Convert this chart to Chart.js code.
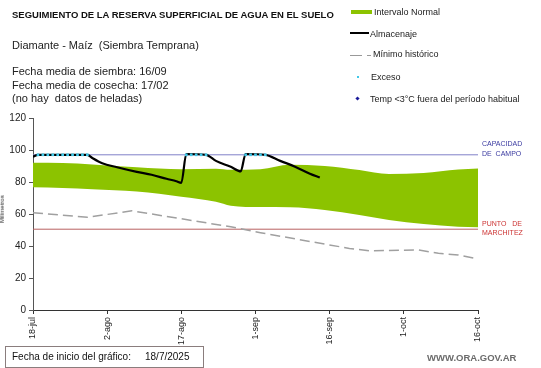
<!DOCTYPE html>
<html>
<head>
<meta charset="utf-8">
<script src="https://cdn.jsdelivr.net/npm/chart.js@4.4.0/dist/chart.umd.min.js"></script>
<style>
  body { margin: 0; background: #fff; font-family: "Liberation Sans", Arial, sans-serif; }
  #wrap { position: relative; width: 541px; height: 368px; overflow: hidden; }
  #c { position: absolute; left: 0; top: 0; }
  .t { position: absolute; white-space: pre; color: #111; line-height: 1; }
  .lg { position: absolute; }
</style>
</head>
<body>
<div id="wrap">
  <canvas id="c" width="541" height="368"></canvas>

  <div class="t" style="left:12px;top:10px;font-size:9.5px;font-weight:bold;">SEGUIMIENTO DE LA RESERVA SUPERFICIAL DE AGUA EN EL SUELO</div>
  <div class="t" style="left:12px;top:39.5px;font-size:11px;color:#222;">Diamante - Maíz  (Siembra Temprana)</div>
  <div class="t" style="left:12px;top:65.5px;font-size:11px;color:#222;">Fecha media de siembra: 16/09</div>
  <div class="t" style="left:12px;top:79.5px;font-size:11px;color:#222;">Fecha media de cosecha: 17/02</div>
  <div class="t" style="left:12px;top:92.5px;font-size:11px;color:#222;">(no hay  datos de heladas)</div>

  <!-- legend -->
  <div class="lg" style="left:351px;top:10px;width:21px;height:4px;background:#8cc300;"></div>
  <div class="t" style="left:374px;top:7.5px;font-size:9px;color:#222;">Intervalo Normal</div>
  <div class="lg" style="left:350px;top:32px;width:19px;height:2px;background:#000;"></div>
  <div class="t" style="left:370px;top:29.5px;font-size:9px;color:#222;">Almacenaje</div>
  <div class="lg" style="left:350px;top:54.5px;width:12px;height:1px;background:#999;"></div>
  <div class="lg" style="left:367px;top:54.5px;width:4px;height:1px;background:#999;"></div>
  <div class="t" style="left:373px;top:50px;font-size:9px;color:#222;">Mínimo histórico</div>
  <div class="lg" style="left:357px;top:76px;width:2px;height:2px;background:#40c8e8;"></div>
  <div class="t" style="left:371px;top:72.5px;font-size:9px;color:#222;">Exceso</div>
  <div class="lg" style="left:356px;top:97px;width:3px;height:3px;background:#1a1a9a;transform:rotate(45deg);"></div>
  <div class="t" style="left:370px;top:94.5px;font-size:9px;color:#222;">Temp &lt;3°C fuera del período habitual</div>

  <div class="t" style="left:-12px;top:206px;font-size:6px;color:#222;transform:rotate(-90deg);">Milímetros</div>

  <div class="lg" style="left:5px;top:346px;width:197px;height:20px;border:1px solid #8a7d7d;"></div>
  <div class="t" style="left:12px;top:352px;font-size:10px;color:#111;">Fecha de inicio del gráfico:</div>
  <div class="t" style="left:145px;top:352px;font-size:10px;color:#111;">18/7/2025</div>
  <div class="t" style="left:427px;top:353px;font-size:9.5px;font-weight:bold;color:#6b6b6b;">WWW.ORA.GOV.AR</div>
</div>

<script>
// days since 18-jul
const tickDays = [0, 15, 30, 45, 60, 75, 90];
const tickLabels = ["18-jul", "2-ago", "17-ago", "1-sep", "16-sep", "1-oct", "16-oct"];

const capacidadCampo = 97;
const puntoMarchitez = 50.5;

// intervalo normal (banda verde)
const bandDays  = [0, 6, 12, 21, 30, 37, 40, 46, 52, 59, 66, 72, 79, 86, 90];
const bandUpper = [92, 91.8, 91, 89.2, 88, 88.3, 87.6, 88, 90.8, 90, 87.5, 85, 85.7, 87.8, 88.5];
const bandLower = [76.7, 76.2, 75.4, 74, 70.8, 67.7, 65.2, 64.3, 64.2, 62.5, 59.4, 56.3, 53.7, 52, 51.7];

// almacenaje
const almDays = [0, 1, 11, 12, 14, 17, 21, 24, 27, 29, 30, 31, 35, 37, 40, 42, 43, 47, 50, 53, 56, 58];
const almVals = [95.8, 97, 97, 95, 91.7, 89.2, 86.3, 84.5, 82, 80.5, 79.5, 97.5, 97, 93.2, 89.5, 86.6, 97.5, 97, 93.2, 89.6, 85.2, 82.8];

// exceso
const excesoDays = [1, 2, 3, 4, 5, 6, 7, 8, 9, 10, 11, 31, 32, 33, 34, 35, 43, 44, 45, 46, 47];
const excesoVal = 97;

// minimo historico
const minDays = [0, 11, 20, 40, 46, 56, 64, 68, 78, 82, 86, 90];
const minVals = [60.8, 57.9, 62, 52, 48.3, 42.8, 38.5, 37, 37.5, 35.4, 34.4, 31.9];

const toPts = (xs, ys) => xs.map((x, i) => ({ x: x, y: ys[i] }));

const refLabels = {
  id: "refLabels",
  afterDraw(chart) {
    const { ctx, chartArea, scales } = chart;
    const yc = scales.y.getPixelForValue(capacidadCampo);
    const yp = scales.y.getPixelForValue(puntoMarchitez);
    const x = chartArea.right + 4;
    ctx.save();
    ctx.font = '7px "Liberation Sans", Arial';
    ctx.textBaseline = "middle";
    ctx.fillStyle = "#3a3aa0";
    ctx.fillText("CAPACIDAD", x, yc - 11);
    ctx.fillText("DE  CAMPO", x, yc - 1);
    ctx.fillStyle = "#cc3333";
    ctx.fillText("PUNTO   DE", x, yp - 5);
    ctx.fillText("MARCHITEZ", x, yp + 4);
    ctx.restore();
  },
};

const data = {
  datasets: [
    {
      label: "lower",
      data: toPts(bandDays, bandLower),
      borderWidth: 0,
      pointRadius: 0,
      fill: false,
      cubicInterpolationMode: "monotone",
      order: 6,
    },
    {
      label: "Intervalo Normal",
      data: toPts(bandDays, bandUpper),
      borderWidth: 0,
      pointRadius: 0,
      backgroundColor: "#8cc300",
      fill: 0,
      cubicInterpolationMode: "monotone",
      order: 5,
    },
    {
      label: "cc",
      data: toPts([0, 90], [capacidadCampo, capacidadCampo]),
      borderColor: "#8080c8",
      borderWidth: 1,
      pointRadius: 0,
      order: 4,
    },
    {
      label: "pm",
      data: toPts([0, 90], [puntoMarchitez, puntoMarchitez]),
      borderColor: "#b86060",
      borderWidth: 1,
      pointRadius: 0,
      order: 4,
    },
    {
      label: "Mínimo histórico",
      data: toPts(minDays, minVals),
      borderColor: "#a0a0a0",
      borderWidth: 1.5,
      borderDash: [10, 5],
      pointRadius: 0,
      order: 3,
    },
    {
      label: "Almacenaje",
      data: toPts(almDays, almVals),
      borderColor: "#000",
      borderWidth: 2.2,
      pointRadius: 0,
      cubicInterpolationMode: "monotone",
      order: 2,
    },
    {
      label: "Exceso",
      data: excesoDays.map((d) => ({ x: d, y: excesoVal })),
      showLine: false,
      pointStyle: "rect",
      pointRadius: 1.9,
      borderWidth: 0,
      backgroundColor: "#40c8e8",
      order: 1,
    },
  ],
};

const config = {
  type: "line",
  data: data,
  plugins: [refLabels],
  options: {
    responsive: false,
    animation: false,
    devicePixelRatio: 1,
    layout: { padding: { top: 118, right: 63, left: 0, bottom: 0 } },
    plugins: {
      legend: { display: false },
      tooltip: { enabled: false },
    },
    scales: {
      x: {
        type: "linear",
        min: 0,
        max: 90,
        afterFit: (s) => { s.height = 58; },
        afterBuildTicks: (s) => { s.ticks = tickDays.map((v) => ({ value: v })); },
        border: { display: true, color: "#333", width: 1 },
        grid: { drawOnChartArea: false, drawTicks: true, tickLength: 4, color: "#333" },
        ticks: {
          autoSkip: false,
          maxRotation: 90,
          minRotation: 90,
          padding: 3,
          color: "#222",
          font: { family: '"Liberation Sans", Arial', size: 9 },
          callback: (v) => tickLabels[tickDays.indexOf(v)] ?? "",
        },
      },
      y: {
        min: 0,
        max: 120,
        afterFit: (s) => { s.width = 33; },
        border: { display: true, color: "#555", width: 1 },
        grid: { drawOnChartArea: false, drawTicks: true, tickLength: 4, color: "#555" },
        ticks: {
          stepSize: 20,
          padding: 3,
          color: "#222",
          font: { family: '"Liberation Sans", Arial', size: 10 },
        },
      },
    },
  },
};

new Chart(document.getElementById("c"), config);
</script>
</body>
</html>
